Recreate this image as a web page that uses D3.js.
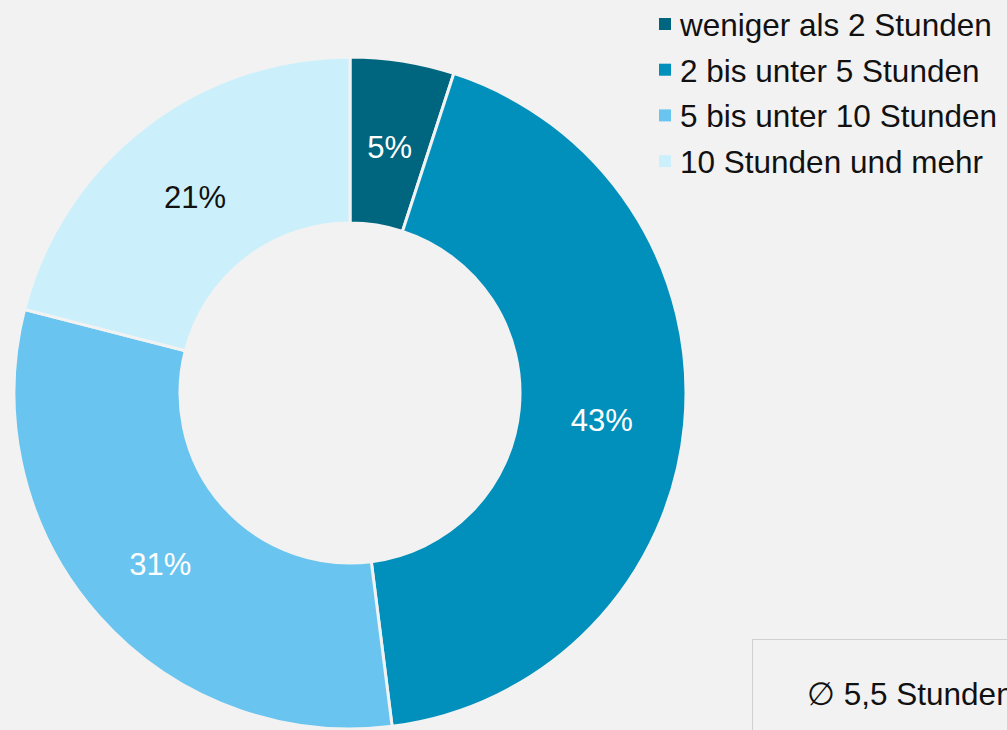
<!DOCTYPE html>
<html>
<head>
<meta charset="utf-8">
<script src="https://cdn.jsdelivr.net/npm/d3@7"></script>
<style>
  html, body { margin: 0; padding: 0; background: #f2f2f2; }
  svg { display: block; }
  text { font-family: "Liberation Sans", Arial, Helvetica, sans-serif; }
</style>
</head>
<body>
<svg id="chart" width="1007" height="730"></svg>
<script>
// Weekly time categories and their shares (percent)
const categories = ["weniger als 2 Stunden", "2 bis unter 5 Stunden", "5 bis unter 10 Stunden", "10 Stunden und mehr"];
const shares = [5, 43, 31, 21];
const colors = ["#00667f", "#0090bb", "#69c5ef", "#ccf0fb"];
const labelColors = ["#ffffff", "#ffffff", "#ffffff", "#111111"];
const averageLabel = "\u2205 5,5 Stunden";

const svg = d3.select("#chart");
const W = 1007, H = 730;
const fontSize = 31.5;

svg.append("rect").attr("width", W).attr("height", H).attr("fill", "#f2f2f2");

const cx = 350, cy = 393, outerR = 336, innerR = 170;

const data = categories.map((c, i) => ({ category: c, value: shares[i], color: colors[i], labelColor: labelColors[i] }));

const pie = d3.pie().value(d => d.value).sort(null);
const arc = d3.arc().innerRadius(innerR).outerRadius(outerR);
const arcs = pie(data);

const g = svg.append("g").attr("transform", `translate(${cx},${cy})`);

g.selectAll("path.slice")
  .data(arcs)
  .join("path")
  .attr("class", "slice")
  .attr("d", arc)
  .attr("fill", d => d.data.color)
  .attr("stroke", "#f2f2f2")
  .attr("stroke-width", 3)
  .attr("stroke-linejoin", "miter");

// percentage labels at slice centroids
g.selectAll("text.pct")
  .data(arcs)
  .join("text")
  .attr("class", "pct")
  .attr("x", d => arc.centroid(d)[0])
  .attr("y", d => arc.centroid(d)[1] + 4)
  .attr("text-anchor", "middle")
  .attr("dominant-baseline", "central")
  .attr("font-size", 31)
  .attr("fill", d => d.data.labelColor)
  .text(d => d.data.value + "%");

// legend
const legend = svg.append("g").attr("transform", "translate(659,24)");
const rowH = 45.7;
const items = legend.selectAll("g.item")
  .data(data)
  .join("g")
  .attr("class", "item")
  .attr("transform", (d, i) => `translate(0,${i * rowH})`);
items.append("rect")
  .attr("x", 0).attr("y", -6)
  .attr("width", 12).attr("height", 12)
  .attr("fill", d => d.color);
items.append("text")
  .attr("x", 21).attr("y", 1)
  .attr("dominant-baseline", "central")
  .attr("font-size", fontSize)
  .attr("fill", "#111111")
  .text(d => d.category);

// average box
svg.append("rect")
  .attr("x", 752.5).attr("y", 639.5)
  .attr("width", 300).attr("height", 120)
  .attr("fill", "#f2f2f2")
  .attr("stroke", "#d0d0d0")
  .attr("stroke-width", 1);
svg.append("text")
  .attr("x", 807).attr("y", 694)
  .attr("dominant-baseline", "central")
  .attr("font-size", fontSize)
  .attr("fill", "#111111")
  .text(averageLabel);
</script>
</body>
</html>
